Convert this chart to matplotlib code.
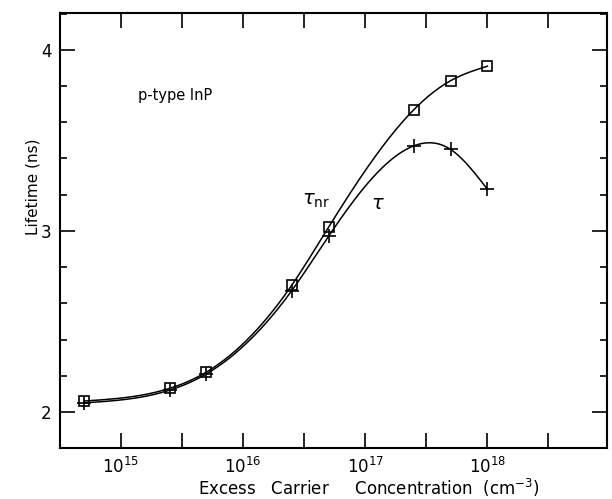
import numpy as np
import matplotlib.pyplot as plt

# excess carrier concentration (cm^-3) and lifetimes (ns)
conc = [5e14, 2.5e15, 5e15, 2.5e16, 5e16, 2.5e17, 5e17, 1e18]
tau_nr = [2.06, 2.13, 2.22, 2.70, 3.02, 3.67, 3.83, 3.91]
tau = [2.05, 2.12, 2.21, 2.67, 2.97, 3.47, 3.45, 3.23]

x_ticks = [1e15, 1e16, 1e17, 1e18]
x_ticklabels = [r'$10^{15}$', r'$10^{16}$', r'$10^{17}$', r'$10^{18}$']
x_half_ticks = [10 ** 15.5, 10 ** 16.5, 10 ** 17.5, 10 ** 18.5]
y_ticks = [2, 3, 4]


def natural_spline(xs, ys, n=300):
    """Natural cubic spline through the points, for drawing a smooth curve."""
    xs = np.asarray(xs, float)
    ys = np.asarray(ys, float)
    k = len(xs)
    h = np.diff(xs)
    A = np.zeros((k, k))
    b = np.zeros(k)
    A[0, 0] = A[-1, -1] = 1.0
    for i in range(1, k - 1):
        A[i, i - 1] = h[i - 1]
        A[i, i] = 2 * (h[i - 1] + h[i])
        A[i, i + 1] = h[i]
        b[i] = 6 * ((ys[i + 1] - ys[i]) / h[i] - (ys[i] - ys[i - 1]) / h[i - 1])
    M = np.linalg.solve(A, b)
    xx = np.linspace(xs[0], xs[-1], n)
    idx = np.clip(np.searchsorted(xs, xx) - 1, 0, k - 2)
    x0, x1 = xs[idx], xs[idx + 1]
    hh = x1 - x0
    a = (x1 - xx) / hh
    c = (xx - x0) / hh
    yy = (a * ys[idx] + c * ys[idx + 1]
          + ((a ** 3 - a) * M[idx] + (c ** 3 - c) * M[idx + 1]) * hh ** 2 / 6)
    return xx, yy


plt.rcParams['font.family'] = ['DejaVu Sans']
plt.rcParams['mathtext.fontset'] = 'dejavusans'

fig = plt.figure(figsize=(6.12, 4.99), dpi=100)
ax = fig.add_axes([0.098, 0.102, 0.894, 0.872])

logc = np.log10(conc)
for vals, mk, ms in [(tau_nr, 's', 7), (tau, '+', 10)]:
    sx, sy = natural_spline(logc, vals)
    ax.plot(10 ** sx, sy, color='black', lw=1.1)
    ax.plot(conc, vals, linestyle='none', marker=mk, ms=ms, mfc='none',
            mec='black', mew=1.2)

ax.set_xscale('log')
ax.set_xlim(10 ** 14.5, 10 ** 18.98)
ax.set_ylim(1.807, 4.204)

ax.set_xticks(x_ticks)
ax.set_xticklabels(x_ticklabels)
ax.set_xticks(x_half_ticks, minor=True)
ax.set_xticklabels([], minor=True)
ax.set_yticks(y_ticks)
ax.set_yticks(np.arange(1.8, 4.21, 0.2), minor=True)

ax.tick_params(axis='both', which='major', direction='in', length=11, width=1.2,
               top=True, right=True, labelsize=12, pad=6)
ax.tick_params(axis='x', which='minor', direction='in', length=11, width=1.2,
               top=True, bottom=True)
ax.tick_params(axis='y', which='minor', direction='in', length=5, width=1.2,
               right=True, left=True)
for s in ax.spines.values():
    s.set_linewidth(1.5)

ax.text(10 ** 15.14, 3.75, 'p-type InP', fontsize=10.5, va='center')
ax.text(10 ** 16.48, 3.17, r'$\tau_{\rm nr}$', fontsize=14, va='center')
ax.text(10 ** 17.05, 3.15, r'$\tau$', fontsize=14, va='center')

fig.text(33 / 612, 1 - 187 / 499, 'Lifetime (ns)', rotation=90, fontsize=11,
         ha='center', va='center')
fig.text(369 / 612, 1 - 488 / 499,
         r'Excess   Carrier     Concentration  (cm$^{-3}$)', fontsize=12,
         ha='center', va='center')

fig.savefig('out.png', dpi=100)
